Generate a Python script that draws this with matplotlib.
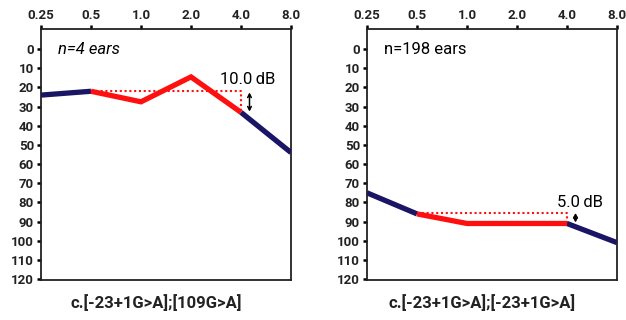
import numpy as np
import matplotlib.pyplot as plt

plt.rcParams['font.family'] = ['Roboto', 'DejaVu Sans']

freqs = [0.25, 0.5, 1.0, 2.0, 4.0, 8.0]
freq_labels = ['0.25', '0.5', '1.0', '2.0', '4.0', '8.0']
yticks = list(range(0, 130, 10))

left_db = [24, 22, 27.5, 14.5, 33, 54]
right_db = [75, 86, 91, 91, 91, 101]

left_ref = 22      # dotted reference level
right_ref = 85.5
left_gap = '10.0\u2009dB'
right_gap = '5.0\u2009dB'

navy = '#1b1565'
red = '#ff1010'

fig = plt.figure(figsize=(6.26, 3.2), dpi=100)
ax1 = fig.add_axes([41/626, 1-280/320, 250/626, 251/320])
ax2 = fig.add_axes([367/626, 1-280/320, 250/626, 251/320])


def panel(ax, db, ref, gap, n_text, italic, title, gap_xy, arr):
    ax.set_xscale('log', base=2)
    ax.set_xlim(0.25, 8)
    ax.set_ylim(120.5, -10.5)
    # blue ends, red middle
    ax.plot(freqs[:2], db[:2], color=navy, lw=3.8, solid_capstyle='butt', zorder=3)
    ax.plot(freqs[4:], db[4:], color=navy, lw=3.8, solid_capstyle='butt', zorder=3)
    ax.plot(freqs[1:5], db[1:5], color=red, lw=3.8, solid_joinstyle='miter',
            solid_capstyle='butt', zorder=4)
    ax.plot([freqs[1], freqs[4], freqs[4]], [ref, ref, db[4]], color=red,
            lw=1.5, ls=(0, (1, 1.3)), zorder=2)
    ax_x = freqs[4] * 2 ** 0.17
    ax.annotate('', xy=(ax_x, arr[1]), xytext=(ax_x, arr[0]),
                arrowprops=dict(arrowstyle='<->,head_length=0.25,head_width=0.13',
                                color='black', lw=1.1, shrinkA=0, shrinkB=0))
    ax.text(gap_xy[0], gap_xy[1], gap, fontsize=12, ha='center', va='center')
    ax.text(0.317, 0, n_text, fontsize=12, ha='left', va='center',
            style='italic' if italic else 'normal')
    ax.set_xticks(freqs)
    ax.set_xticklabels(freq_labels)
    ax.xaxis.set_minor_locator(plt.NullLocator())
    ax.xaxis.tick_top()
    ax.set_yticks(yticks)
    ax.tick_params(axis='both', length=3, width=1.8, labelsize=9.5, pad=2,
                   labelcolor='#222222')
    for lab in ax.get_xticklabels() + ax.get_yticklabels():
        lab.set_fontweight('bold')
    for s in ax.spines.values():
        s.set_linewidth(1.3)
        s.set_color('#222222')
    ax.set_xlabel(title, fontsize=12, fontweight='bold', labelpad=10,
                  color='#222222', x=0.46)
    ax.xaxis.set_label_position('bottom')


panel(ax1, left_db, left_ref, left_gap, 'n=4 ears', True,
      'c.[-23+1G>A];[109G>A]', (4.0 * 2 ** 0.14, 16), (22.6, 32.6))
panel(ax2, right_db, right_ref, right_gap, 'n=198 ears', False,
      'c.[-23+1G>A];[-23+1G>A]', (4.0 * 2 ** 0.26, 80), (85.5, 90.5))

fig.savefig('out.png', dpi=100)
